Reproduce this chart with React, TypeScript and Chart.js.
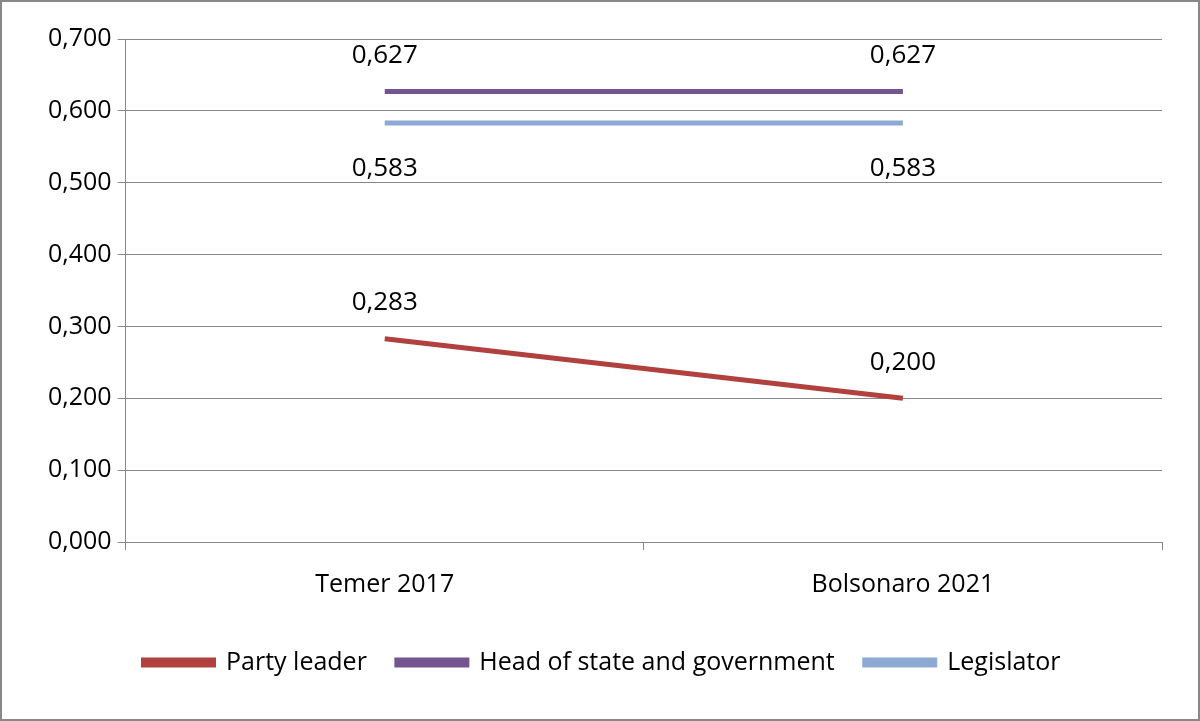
import React, { useEffect, useRef } from "react";
import { Chart, registerables } from "chart.js";
Chart.register(...registerables);

const categories = ["Temer 2017", "Bolsonaro 2021"];
const partyLeader = [0.283, 0.2];
const headOfState = [0.627, 0.627];
const legislator = [0.583, 0.583];

const fmt = (v: number) => v.toFixed(3).replace(".", ",");

const labelPlugin = {
  id: "labels",
  afterDatasetsDraw(chart: any) {
    const ctx = chart.ctx;
    ctx.save();
    ctx.font = "26px 'Open Sans', sans-serif";
    ctx.fillStyle = "#000";
    ctx.textAlign = "center";
    ctx.textBaseline = "middle";
    chart.data.datasets.forEach((ds: any, i: number) => {
      const meta = chart.getDatasetMeta(i);
      meta.data.forEach((pt: any, j: number) => {
        const off = i === 2 ? 46 : -36;
        ctx.fillText(fmt(ds.data[j]), pt.x, pt.y + off);
      });
    });
    ctx.restore();
  },
};

export default function App() {
  const ref = useRef<HTMLCanvasElement>(null);
  useEffect(() => {
    document.body.style.margin = "0";
    const font = { family: "'Open Sans', sans-serif", size: 25 };
    const chart = new Chart(ref.current!, {
      type: "line",
      data: {
        labels: categories,
        datasets: [
          { label: "Party leader", data: partyLeader, borderColor: "#B0413E", backgroundColor: "#B0413E", borderWidth: 5, pointRadius: 0 },
          { label: "Head of state and government", data: headOfState, borderColor: "#74558F", backgroundColor: "#74558F", borderWidth: 5, pointRadius: 0 },
          { label: "Legislator", data: legislator, borderColor: "#8EA9D4", backgroundColor: "#8EA9D4", borderWidth: 5, pointRadius: 0 },
        ],
      },
      options: {
        animation: false,
        responsive: false,
        layout: { padding: { left: 40, right: 36, top: 37, bottom: 34 } },
        plugins: {
          tooltip: { enabled: false },
          legend: {
            position: "bottom",
            labels: { font, color: "#000", boxWidth: 70, boxHeight: 5, padding: 30 },
          },
        },
        scales: {
          x: {
            offset: true,
            grid: { offset: true, drawOnChartArea: false, tickLength: 8, color: "#888" },
            border: { color: "#888" },
            ticks: { font, color: "#000", padding: 20 },
          },
          y: {
            min: 0,
            max: 0.7,
            ticks: { stepSize: 0.1, font, color: "#000", callback: (v: any) => fmt(Number(v)), padding: 6 },
            grid: { color: "#888", tickLength: 8 },
            border: { color: "#888" },
          },
        },
      },
      plugins: [labelPlugin],
    });
    return () => chart.destroy();
  }, []);
  return (
    <div style={{ width: 1200, height: 721, boxSizing: "border-box", border: "2px solid #888" }}>
      <canvas ref={ref} width={1196} height={717} />
    </div>
  );
}
